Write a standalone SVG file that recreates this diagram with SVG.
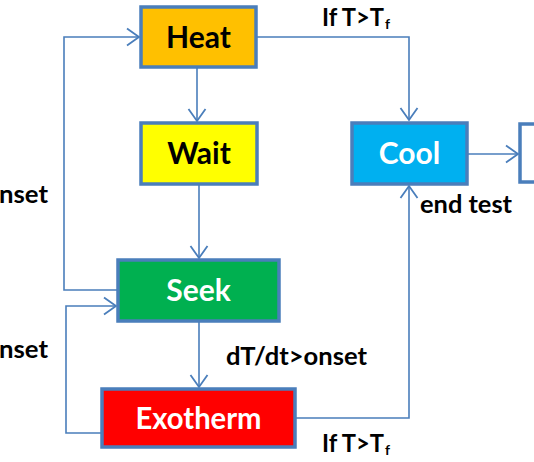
<svg xmlns="http://www.w3.org/2000/svg" width="534" height="462" viewBox="0 0 534 462">
<style>
.box{stroke:#4A7EBB;stroke-width:3.5}
.nt{font-family:Lato,"Liberation Sans",sans-serif;font-weight:bold;font-size:30px;text-anchor:middle}
.lb{font-family:Lato,"Liberation Sans",sans-serif;font-weight:bold;font-size:24px;fill:#000}
.sub{font-family:Lato,"Liberation Sans",sans-serif;font-weight:bold;font-size:14px;fill:#000}
.cn{fill:none;stroke:#4A7EBB;stroke-width:1.6}
</style>
<defs>
<marker id="ar" markerUnits="userSpaceOnUse" markerWidth="16" markerHeight="20" viewBox="0 0 16 20" refX="13" refY="10" orient="auto">
<path d="M1,1.5 L13,10 L1,18.5" fill="none" stroke="#4A7EBB" stroke-width="1.8"/>
</marker>
</defs>
<rect width="534" height="462" fill="#fff"/>
<g id="connectors" class="cn">
<path d="M256,37 H409 V120" marker-end="url(#ar)"/>
<path d="M197,67 V121" marker-end="url(#ar)"/>
<path d="M199,184 V258" marker-end="url(#ar)"/>
<path d="M118,290 H64 V37 H139" marker-end="url(#ar)"/>
<path d="M102,433 H66 V306 H116" marker-end="url(#ar)"/>
<path d="M199,321 V387" marker-end="url(#ar)"/>
<path d="M295,418 H409 V186" marker-end="url(#ar)"/>
<path d="M467,154 H518" marker-end="url(#ar)"/>
</g>
<g id="heat">
<rect class="box" x="141" y="7" width="115" height="60" fill="#FFC000"/>
<text class="nt" x="198.5" y="48" fill="#000">Heat</text>
</g>
<g id="wait">
<rect class="box" x="141" y="123" width="116" height="61" fill="#FFFF00"/>
<text class="nt" x="199" y="164" fill="#000">Wait</text>
</g>
<g id="cool">
<rect class="box" x="352" y="123" width="115" height="61" fill="#00B0F0"/>
<text class="nt" x="409.5" y="164" fill="#fff">Cool</text>
</g>
<g id="end">
<rect class="box" x="520" y="124" width="40" height="58" fill="#fff"/>
</g>
<g id="seek">
<rect class="box" x="118" y="260" width="161" height="61" fill="#00B050"/>
<text class="nt" x="198.5" y="300.5" fill="#fff">Seek</text>
</g>
<g id="exotherm">
<rect class="box" x="102" y="389" width="193" height="58" fill="#FF0000"/>
<text class="nt" x="198.5" y="428.5" fill="#fff" textLength="126" lengthAdjust="spacingAndGlyphs">Exotherm</text>
</g>
<g id="labels">
<text class="lb" x="322" y="25.5" textLength="62" lengthAdjust="spacingAndGlyphs">If T&gt;T</text>
<text class="sub" x="385" y="28.5">f</text>
<text class="lb" x="420" y="213" textLength="92" lengthAdjust="spacingAndGlyphs">end test</text>
<text class="lb" x="226" y="365" textLength="141" lengthAdjust="spacingAndGlyphs">dT/dt&gt;onset</text>
<text class="lb" x="322" y="452" textLength="62" lengthAdjust="spacingAndGlyphs">If T&gt;T</text>
<text class="sub" x="385" y="455">f</text>
<text class="lb" x="-1" y="203" textLength="49" lengthAdjust="spacingAndGlyphs">nset</text>
<text class="lb" x="-1" y="358" textLength="49" lengthAdjust="spacingAndGlyphs">nset</text>
</g>
</svg>
